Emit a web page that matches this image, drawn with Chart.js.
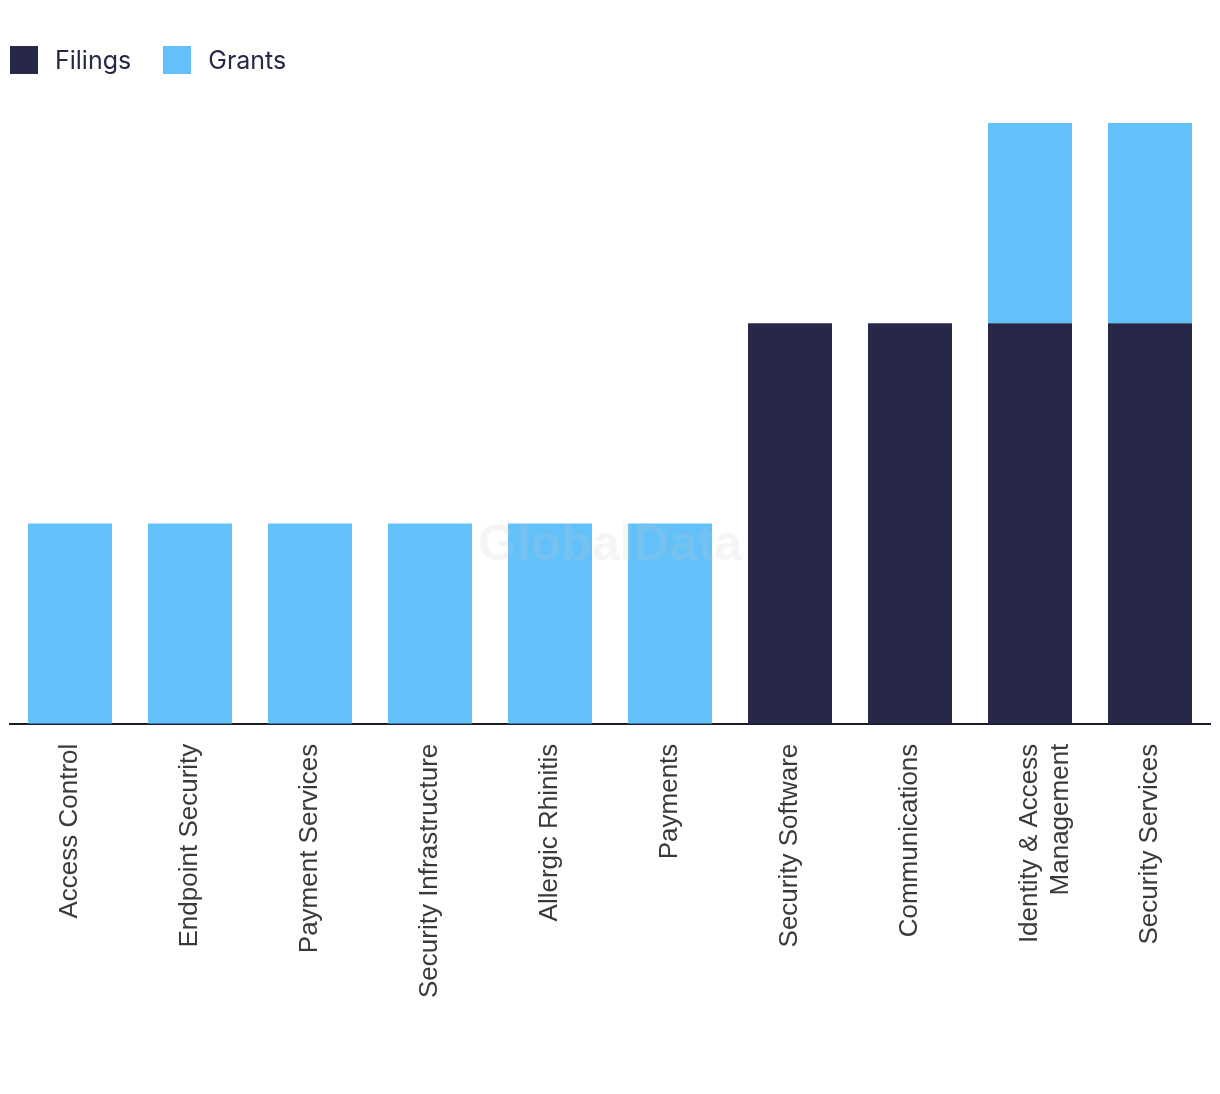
<!DOCTYPE html>
<html>
<head>
<meta charset="utf-8">
<script src="https://cdn.jsdelivr.net/npm/chart.js@4"></script>
<style>
  html, body { margin: 0; padding: 0; background: #fff; }
  #wrap { width: 1220px; height: 1094px; position: relative; }
  #legend { position: absolute; left: 10px; top: 46px; display: flex; font: 25px Inter, "Liberation Sans", sans-serif; color: #262848; }
  #legend .item { display: flex; align-items: center; margin-right: 32px; height: 28px; }
  #legend .box { width: 28px; height: 28px; margin-right: 17px; }
</style>
</head>
<body>
<div id="wrap"><canvas id="chart"></canvas><div id="legend"></div></div>
<script>
const categories = [
  'Access Control', 'Endpoint Security', 'Payment Services', 'Security Infrastructure',
  'Allergic Rhinitis', 'Payments', 'Security Software', 'Communications',
  ['Identity & Access', 'Management'], 'Security Services'
];
const filings = [0, 0, 0, 0, 0, 0, 2, 2, 2, 2];
const grants = [1, 1, 1, 1, 1, 1, 0, 0, 1, 1];

const navy = '#272849';
const sky = '#63c1f9';

// faint watermark over the plot
const watermark = {
  id: 'watermark',
  afterDatasetsDraw(chart) {
    const ctx = chart.ctx;
    const a = chart.chartArea;
    ctx.save();
    ctx.font = 'bold 50px "Liberation Sans", Arial, sans-serif';
    ctx.fillStyle = 'rgba(200,200,200,0.18)';
    ctx.textAlign = 'center';
    ctx.textBaseline = 'middle';
    ctx.fillText('GlobalData', (a.left + a.right) / 2, (a.top + a.bottom) / 2 + 123);
    ctx.restore();
  }
};

const chart = new Chart(document.getElementById('chart'), {
  type: 'bar',
  data: {
    labels: categories,
    datasets: [
      { label: 'Filings', data: filings, backgroundColor: navy },
      { label: 'Grants', data: grants, backgroundColor: sky }
    ]
  },
  options: {
    responsive: true,
    maintainAspectRatio: false,
    animation: false,
    layout: { padding: { left: 10, right: 10, top: 123, bottom: 76 } },
    datasets: { bar: { barPercentage: 0.7, categoryPercentage: 1 } },
    plugins: {
      tooltip: { enabled: false },
      legend: { display: false }
    },
    scales: {
      x: {
        stacked: true,
        grid: { display: false, drawTicks: false },
        border: { color: '#1c1c2a', width: 2 },
        ticks: {
          minRotation: 90,
          maxRotation: 90,
          padding: 20,
          color: '#3a3a3a',
          font: { family: '"Liberation Sans", Arial, sans-serif', size: 26 }
        }
      },
      y: {
        stacked: true,
        display: false,
        min: 0,
        max: 3
      }
    }
  },
  plugins: [watermark]
});

// html legend from the datasets
const legend = document.getElementById('legend');
chart.data.datasets.forEach(ds => {
  const item = document.createElement('div');
  item.className = 'item';
  item.innerHTML = `<span class="box" style="background:${ds.backgroundColor}"></span>${ds.label}`;
  legend.appendChild(item);
});
</script>
</body>
</html>
